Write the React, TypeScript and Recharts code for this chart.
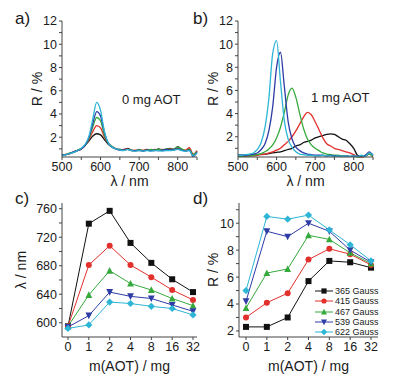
import React from 'react'
import { LineChart, Line, XAxis, YAxis } from 'recharts'

// wavelength grid (nm) for the spectra in a) and b)
const WL = [
  500, 510, 520, 530, 540, 550, 560, 570, 580, 590, 600, 610, 620, 630, 640, 650, 660, 670,
  680, 690, 700, 710, 720, 730, 740, 750, 760, 770, 780, 790, 800, 810, 820, 830, 840, 850,
]

// a) 0 mg AOT, R / %
const A_365 = [0.45, 0.5, 0.6, 0.7, 0.85, 1.0, 1.3, 1.7, 2.1, 2.3, 2.2, 1.8, 1.4, 1.15, 1.0, 0.95, 0.9, 1.05, 0.9, 0.85, 0.9, 0.85, 0.95, 0.9, 0.85, 1.0, 0.9, 0.95, 1.05, 0.9, 1.2, 0.95, 0.85, 1.0, 0.45, 0.8]
const A_415 = [0.4, 0.55, 0.6, 0.75, 0.85, 1.0, 1.3, 1.8, 2.5, 3.0, 2.8, 2.0, 1.5, 1.2, 1.0, 0.9, 0.95, 1.0, 0.85, 0.9, 0.85, 0.9, 0.9, 0.85, 0.95, 0.9, 0.95, 0.9, 1.0, 0.95, 1.05, 0.9, 0.9, 1.1, 0.55, 0.85]
const A_467 = [0.5, 0.5, 0.65, 0.7, 0.9, 1.05, 1.3, 1.9, 2.9, 3.7, 3.4, 2.2, 1.5, 1.2, 1.0, 0.95, 0.9, 0.95, 0.9, 0.85, 0.95, 0.85, 0.9, 0.95, 0.9, 0.95, 0.9, 1.0, 0.95, 1.0, 1.15, 1.0, 0.85, 0.95, 0.5, 0.75]
const A_539 = [0.45, 0.5, 0.6, 0.75, 0.85, 1.0, 1.3, 2.0, 3.2, 4.2, 3.8, 2.4, 1.5, 1.15, 1.0, 0.9, 0.9, 0.95, 0.85, 0.85, 0.9, 0.8, 0.9, 0.85, 0.9, 0.85, 0.9, 0.95, 0.9, 0.95, 1.0, 0.9, 0.8, 0.9, 0.35, 0.7]
const A_622 = [0.4, 0.5, 0.6, 0.7, 0.85, 1.05, 1.4, 2.1, 3.6, 5.0, 4.3, 2.5, 1.5, 1.15, 1.0, 0.9, 0.85, 0.95, 0.85, 0.8, 0.85, 0.8, 0.85, 0.8, 0.85, 0.85, 0.8, 0.85, 0.85, 0.9, 0.95, 0.85, 0.8, 0.85, 0.4, 0.65]

// b) 1 mg AOT, R / %
const B_365 = [0.4, 0.4, 0.4, 0.4, 0.4, 0.45, 0.5, 0.5, 0.55, 0.6, 0.65, 0.7, 0.8, 0.9, 1.0, 1.2, 1.3, 1.5, 1.6, 1.7, 1.9, 2.0, 2.1, 2.2, 2.25, 2.2, 2.0, 1.8, 1.7, 1.4, 1.0, 0.4, 0.3, 0.4, 0.5, 0.4]
const B_415 = [0.3, 0.3, 0.3, 0.35, 0.35, 0.4, 0.45, 0.5, 0.6, 0.7, 0.85, 1.0, 1.3, 1.6, 2.0, 2.5, 3.1, 3.7, 4.1, 3.9, 3.3, 2.6, 1.9, 1.4, 1.2, 1.0, 0.9, 0.8, 0.7, 0.6, 0.45, 0.3, 0.25, 0.3, 0.5, 0.3]
const B_467 = [0.3, 0.3, 0.35, 0.35, 0.4, 0.45, 0.55, 0.7, 0.95, 1.3, 1.9, 2.8, 4.1, 5.6, 6.2, 5.4, 4.0, 2.7, 1.8, 1.3, 1.0, 0.8, 0.6, 0.5, 0.45, 0.4, 0.4, 0.35, 0.35, 0.3, 0.3, 0.25, 0.3, 0.35, 0.5, 0.3]
const B_539 = [0.4, 0.4, 0.4, 0.45, 0.5, 0.6, 0.9, 1.4, 2.5, 4.6, 8.0, 9.3, 6.4, 3.3, 1.8, 1.1, 0.8, 0.6, 0.5, 0.45, 0.4, 0.4, 0.4, 0.35, 0.4, 0.35, 0.35, 0.3, 0.35, 0.3, 0.35, 0.3, 0.35, 0.4, 0.7, 0.4]
const B_622 = [0.4, 0.4, 0.45, 0.5, 0.6, 0.9, 1.5, 2.8, 5.3, 9.2, 10.3, 6.8, 3.4, 1.8, 1.1, 0.7, 0.5, 0.45, 0.4, 0.4, 0.35, 0.35, 0.4, 0.35, 0.35, 0.3, 0.35, 0.3, 0.35, 0.3, 0.35, 0.3, 0.4, 0.3, 0.6, 0.4]

// c) and d) vs m(AOT)
const M_AOT = ['0', '1', '2', '4', '8', '16', '32']
const C_365 = [595, 739, 757, 712, 684, 661, 643]
const C_415 = [595, 681, 708, 681, 664, 646, 632]
const C_467 = [595, 639, 673, 655, 646, 634, 624]
const C_539 = [594, 610, 643, 637, 634, 625, 616]
const C_622 = [592, 597, 629, 627, 623, 620, 611]

const D_365 = [2.3, 2.3, 3.0, 5.7, 7.2, 7.1, 6.7]
const D_415 = [3.0, 4.1, 4.8, 7.3, 8.1, 7.7, 6.9]
const D_467 = [3.7, 6.3, 6.6, 9.1, 8.8, 7.8, 7.0]
const D_539 = [4.2, 9.4, 9.0, 10.0, 9.4, 8.0, 7.1]
const D_622 = [5.0, 10.5, 10.3, 10.6, 9.5, 8.4, 7.2]

const SERIES = [
  { key: 'g365', name: '365 Gauss', color: '#111111', shape: 'square' },
  { key: 'g415', name: '415 Gauss', color: '#e2302d', shape: 'circle' },
  { key: 'g467', name: '467 Gauss', color: '#36a93c', shape: 'up' },
  { key: 'g539', name: '539 Gauss', color: '#2e3ca6', shape: 'down' },
  { key: 'g622', name: '622 Gauss', color: '#2db5d6', shape: 'diamond' },
]

const specA = WL.map((wl, i) => ({ wl, g365: A_365[i], g415: A_415[i], g467: A_467[i], g539: A_539[i], g622: A_622[i] }))
const specB = WL.map((wl, i) => ({ wl, g365: B_365[i], g415: B_415[i], g467: B_467[i], g539: B_539[i], g622: B_622[i] }))
const peakC = M_AOT.map((m, i) => ({ m, g365: C_365[i], g415: C_415[i], g467: C_467[i], g539: C_539[i], g622: C_622[i] }))
const peakD = M_AOT.map((m, i) => ({ m, g365: D_365[i], g415: D_415[i], g467: D_467[i], g539: D_539[i], g622: D_622[i] }))

const AXIS = '#444'
const TXT = '#1a1a1a'
const tickStyle = { fontSize: 12.5, fill: TXT }
const titleStyle = { fontSize: 14, fill: TXT }

function Marker({ cx, cy, shape, color, s = 3 }: any) {
  if (cx == null || cy == null) return null
  if (shape === 'square') return <rect x={cx - s} y={cy - s} width={s * 2} height={s * 2} fill={color} />
  if (shape === 'circle') return <circle cx={cx} cy={cy} r={s} fill={color} />
  if (shape === 'up') return <polygon points={`${cx},${cy - s - 0.6} ${cx + s + 0.4},${cy + s} ${cx - s - 0.4},${cy + s}`} fill={color} />
  if (shape === 'down') return <polygon points={`${cx},${cy + s + 0.6} ${cx + s + 0.4},${cy - s} ${cx - s - 0.4},${cy - s}`} fill={color} />
  return <polygon points={`${cx},${cy - s - 0.6} ${cx + s + 0.6},${cy} ${cx},${cy + s + 0.6} ${cx - s - 0.6},${cy}`} fill={color} />
}

const evenLabel = (v: number) => (v % 2 === 0 ? String(v) : '')

function SpectrumChart({ data, yWidth, right }: { data: any[]; yWidth: number; right: number }) {
  return (
    <LineChart width={200} height={190} data={data} margin={{ top: 21, right, bottom: 3, left: 0 }}>
      <XAxis
        dataKey="wl"
        type="number"
        domain={[500, 850]}
        ticks={[500, 550, 600, 650, 700, 750, 800, 850]}
        tickFormatter={(v: number) => (v % 100 === 0 ? String(v) : '')}
        interval={0}
        tickSize={3}
        height={30}
        stroke={AXIS}
        tick={tickStyle}
        label={{ value: 'λ / nm', position: 'insideBottom', offset: 1, style: titleStyle }}
      />
      <YAxis
        type="number"
        domain={[0.3, 12]}
        ticks={[1, 2, 3, 4, 5, 6, 7, 8, 9, 10, 11, 12]}
        tickFormatter={evenLabel}
        interval={0}
        tickSize={3}
        width={yWidth}
        stroke={AXIS}
        tick={tickStyle}
        label={{ value: 'R / %', angle: -90, position: 'insideLeft', offset: yWidth - 25, style: { ...titleStyle, textAnchor: 'middle' } }}
      />
      {SERIES.map((s) => (
        <Line key={s.key} type="monotone" dataKey={s.key} stroke={s.color} strokeWidth={1.3} dot={false} isAnimationActive={false} />
      ))}
    </LineChart>
  )
}

function LegendBox() {
  return (
    <div style={{ fontSize: 9, color: TXT, lineHeight: '10.3px' }}>
      {SERIES.map((s) => (
        <div key={s.key} style={{ display: 'flex', alignItems: 'center', height: 10.3 }}>
          <svg width={18} height={10} style={{ marginRight: 2 }}>
            <line x1={0} y1={5} x2={18} y2={5} stroke={s.color} strokeWidth={1} />
            <Marker cx={9} cy={5} shape={s.shape} color={s.color} s={2.6} />
          </svg>
          <span>{s.name}</span>
        </div>
      ))}
    </div>
  )
}

function PeakChart({ data, domain, ticks, tickFmt, yWidth, right, yTitle, yTitleOffset, pad }: any) {
  return (
    <LineChart width={200} height={189} data={data} margin={{ top: 13, right, bottom: 4, left: 0 }}>
      <XAxis
        dataKey="m"
        type="category"
        padding={pad}
        tickSize={3}
        height={38}
        stroke={AXIS}
        tick={tickStyle}
        interval={0}
        label={{ value: 'm(AOT) / mg', position: 'insideBottom', offset: 4, style: titleStyle }}
      />
      <YAxis
        type="number"
        domain={domain}
        ticks={ticks}
        tickFormatter={tickFmt}
        interval={0}
        tickSize={3}
        width={yWidth}
        stroke={AXIS}
        tick={tickStyle}
        allowDataOverflow
        label={{ value: yTitle, angle: -90, position: 'insideLeft', offset: yTitleOffset, style: { ...titleStyle, textAnchor: 'middle' } }}
      />
      {SERIES.map((s) => (
        <Line
          key={s.key}
          type="linear"
          dataKey={s.key}
          name={s.name}
          stroke={s.color}
          strokeWidth={1}
          isAnimationActive={false}
          dot={(p: any) => <Marker key={`${s.key}-${p.index}`} cx={p.cx} cy={p.cy} shape={s.shape} color={s.color} />}
        />
      ))}
    </LineChart>
  )
}

const panelLabel: React.CSSProperties = { position: 'absolute', fontSize: 17, lineHeight: 1, color: TXT }
const note: React.CSSProperties = { position: 'absolute', fontSize: 13, lineHeight: 1, color: TXT, whiteSpace: 'nowrap' }

export default function App() {
  return (
    <div
      style={{
        position: 'absolute',
        left: 0,
        top: 0,
        width: 401,
        height: 379,
        background: '#fff',
        fontFamily: '"Liberation Sans", Arial, sans-serif',
        overflow: 'hidden',
      }}
    >
      <div style={{ position: 'absolute', left: 0, top: 0 }}>
        <SpectrumChart data={specA} yWidth={62} right={3} />
      </div>
      <div style={{ position: 'absolute', left: 200, top: 0 }}>
        <SpectrumChart data={specB} yWidth={38} right={27} />
      </div>
      <div style={{ position: 'absolute', left: 0, top: 190 }}>
        <PeakChart
          data={peakC}
          domain={[580, 768]}
          ticks={[600, 620, 640, 660, 680, 700, 720, 740, 760]}
          tickFmt={(v: number) => (v % 40 === 0 ? String(v) : '')}
          yWidth={62}
          right={3}
          yTitle="λ / nm"
          yTitleOffset={21}
          pad={{ left: 6, right: 4 }}
        />
      </div>
      <div style={{ position: 'absolute', left: 200, top: 190 }}>
        <PeakChart
          data={peakD}
          domain={[1.55, 11.5]}
          ticks={[2, 3, 4, 5, 6, 7, 8, 9, 10, 11]}
          tickFmt={evenLabel}
          yWidth={39}
          right={22}
          yTitle="R / %"
          yTitleOffset={13}
          pad={{ left: 7, right: 7 }}
        />
      </div>
      <div style={{ position: 'absolute', left: 315, top: 286 }}>
        <LegendBox />
      </div>
      <div style={{ ...panelLabel, left: 15, top: 10 }}>a)</div>
      <div style={{ ...panelLabel, left: 193, top: 10 }}>b)</div>
      <div style={{ ...panelLabel, left: 15, top: 190 }}>c)</div>
      <div style={{ ...panelLabel, left: 193, top: 190 }}>d)</div>
      <div style={{ ...note, left: 122, top: 93 }}>0 mg AOT</div>
      <div style={{ ...note, left: 311, top: 91 }}>1 mg AOT</div>
    </div>
  )
}
